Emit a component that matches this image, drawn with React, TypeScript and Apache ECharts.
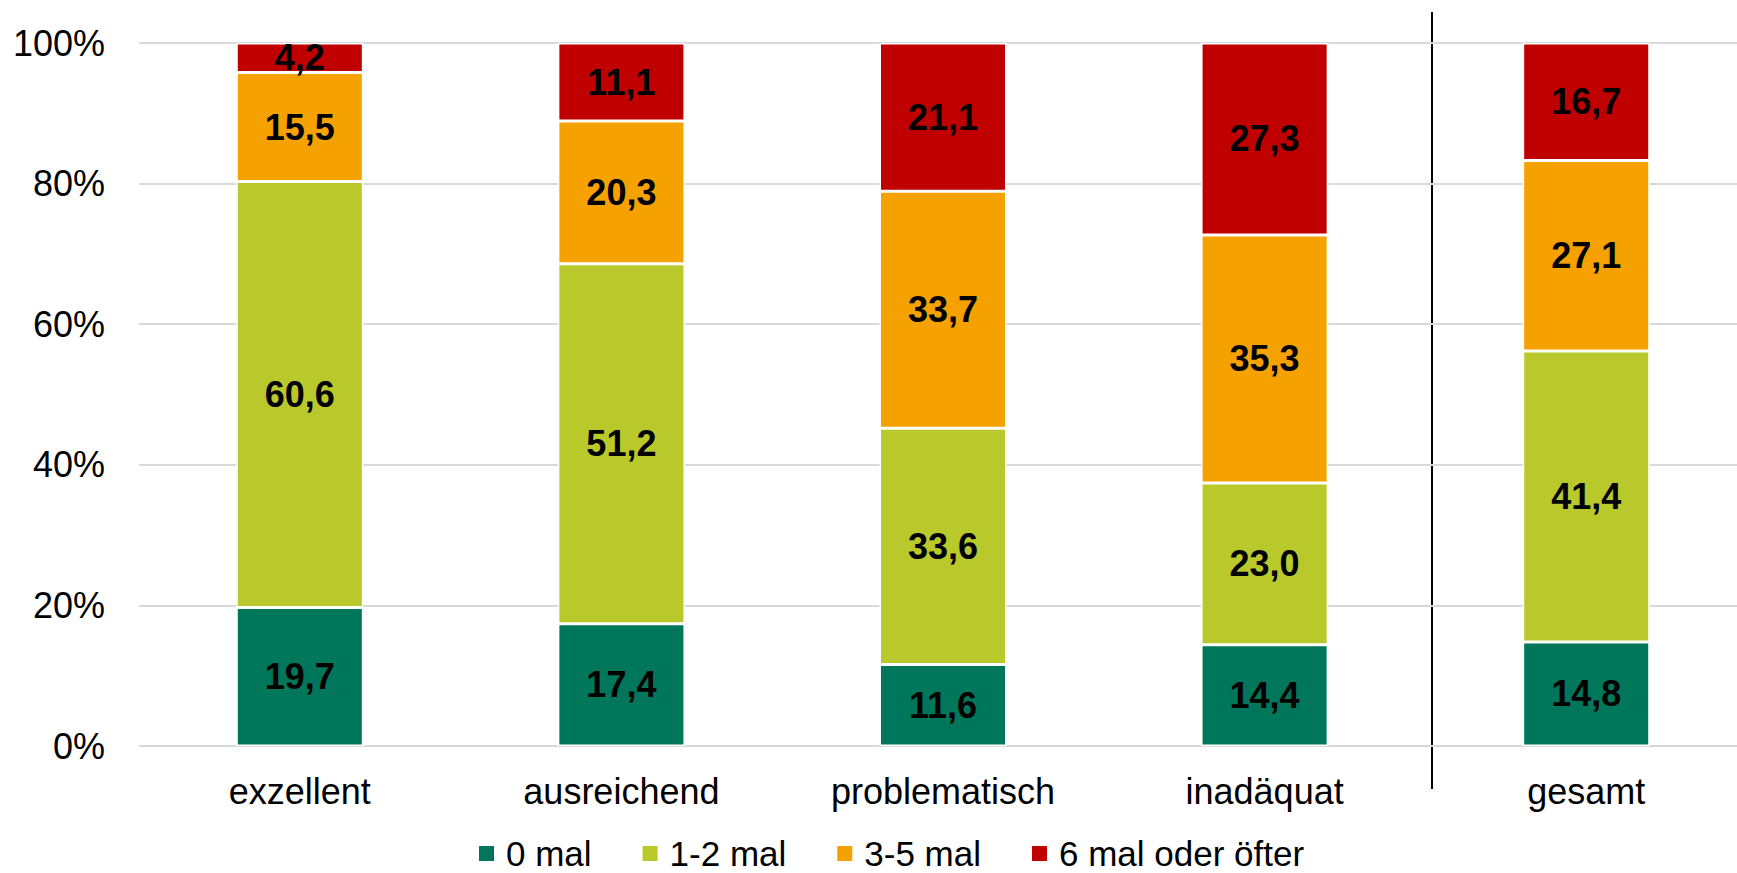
import React, { useEffect, useRef } from 'react';
import * as echarts from 'echarts';

const categories = ['exzellent', 'ausreichend', 'problematisch', 'inadäquat', 'gesamt'];
const seriesNames = ['0 mal', '1-2 mal', '3-5 mal', '6 mal oder öfter'];
const mal0 = [19.7, 17.4, 11.6, 14.4, 14.8];
const mal12 = [60.6, 51.2, 33.6, 23.0, 41.4];
const mal35 = [15.5, 20.3, 33.7, 35.3, 27.1];
const mal6 = [4.2, 11.1, 21.1, 27.3, 16.7];
const seriesColors = ['#00765A', '#B9C92B', '#F5A100', '#C00000'];

const FONT = "'Liberation Sans', Arial, sans-serif";

export default function App() {
  const ref = useRef<HTMLDivElement>(null);
  useEffect(() => {
    if (!ref.current) return;
    const chart = echarts.init(ref.current, null, { renderer: 'svg' });
    const allData = [mal0, mal12, mal35, mal6];
    chart.setOption({
      animation: false,
      textStyle: { fontFamily: FONT },
      grid: {
        left: 139,
        top: 43,
        width: 1608,
        height: 703,
        containLabel: false,
        outerBoundsMode: 'none',
      },
      legend: {
        data: seriesNames,
        left: 477,
        top: 836,
        padding: 0,
        icon: 'rect',
        itemWidth: 17,
        itemHeight: 17,
        itemGap: 49,
        selectedMode: false,
        textStyle: {
          fontSize: 35,
          color: '#000',
          fontFamily: FONT,
          lineHeight: 32,
          padding: [0, 0, 0, 6],
        },
      },
      xAxis: {
        type: 'category',
        data: categories,
        axisLine: { show: false },
        axisTick: { show: false },
        axisLabel: { fontSize: 36, color: '#000', margin: 27, fontFamily: FONT },
      },
      yAxis: {
        type: 'value',
        min: 0,
        max: 100,
        interval: 20,
        axisLine: { show: false },
        axisTick: { show: false },
        axisLabel: {
          fontSize: 36,
          color: '#000',
          margin: 34,
          fontFamily: FONT,
          formatter: '{value}%',
        },
        splitLine: { lineStyle: { color: '#D9D9D9', width: 2 } },
      },
      series: seriesNames.map((name, i) => ({
        name,
        type: 'bar',
        stack: 'total',
        barWidth: '39.5%',
        data: allData[i],
        itemStyle: { color: seriesColors[i], borderColor: '#FFFFFF', borderWidth: 1.5 },
        emphasis: { disabled: true },
        label: {
          show: true,
          position: 'inside',
          fontSize: 36,
          fontWeight: 'bold',
          color: '#000',
          fontFamily: FONT,
          formatter: (p: any) => Number(p.value).toFixed(1).replace('.', ','),
        },
      })),
      graphic: [
        {
          type: 'line',
          shape: { x1: 1432, y1: 12, x2: 1432, y2: 789 },
          style: { stroke: '#000', lineWidth: 2 },
          silent: true,
        },
      ],
    });
    return () => chart.dispose();
  }, []);
  return (
    <div
      ref={ref}
      style={{ position: 'absolute', left: 0, top: 0, width: 1737, height: 873 }}
    />
  );
}
